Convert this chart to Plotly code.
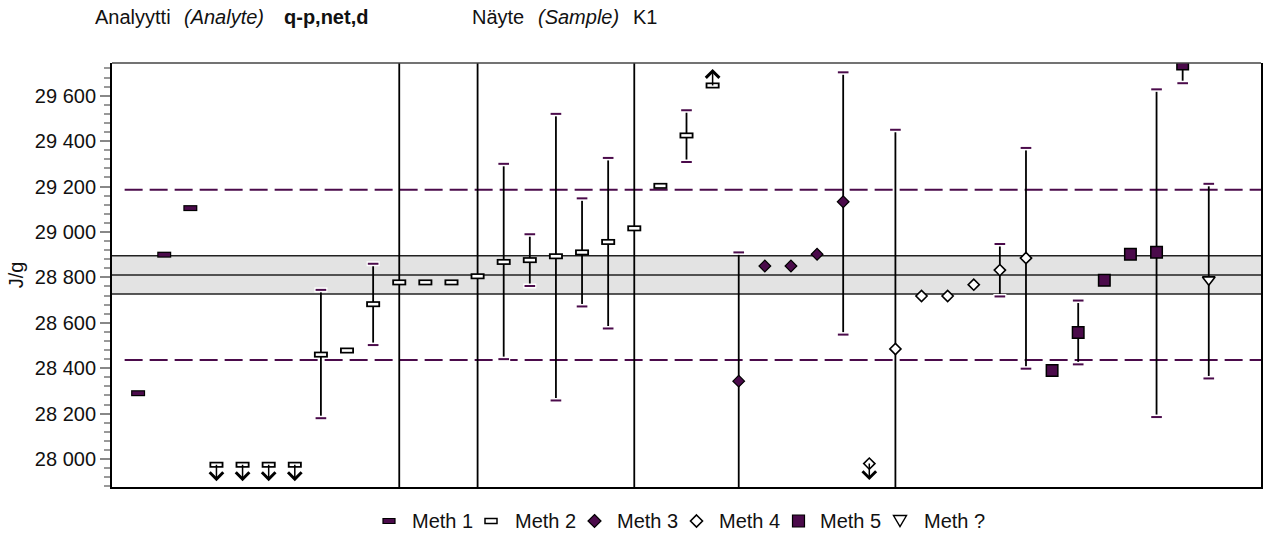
import plotly.graph_objects as go

PURPLE = "#4b0b4b"
FONT = "Liberation Sans, Arial, sans-serif"

# ---- results by method: sample position, reported value, interval limits ----
meth1_x = [1, 2, 3]
meth1_y = [28290, 28900, 29105]
meth1_lo = [None, None, None]
meth1_hi = [None, None, None]

meth2_x = [4, 5, 6, 7, 8, 9, 10, 11, 12, 13, 14, 15, 16, 17, 18, 19, 20, 21, 22, 23]
meth2_y = [27975, 27975, 27975, 27975, 28460, 28478, 28682, 28778, 28778, 28778,
           28805, 28868, 28876, 28893, 28910, 28956, 29016, 29203, 29425, 29645]
meth2_lo = [None, None, None, None, 28180, None, 28502, 27650, None, None,
            27620, 28440, 28762, 28258, 28672, 28575, 27600, None, 29308, None]
meth2_hi = [None, None, None, None, 28745, None, 28860, 29900, None, None,
            29980, 29300, 28990, 29520, 29148, 29326, 30400, None, 29536, None]
meth2_flag = ["<", "<", "<", "<", "", "", "", "", "", "",
              "", "", "", "", "", "", "", "", "", ">"]

meth3_x = [24, 25, 26, 27, 28]
meth3_y = [28343, 28850, 28850, 28902, 29133]
meth3_lo = [27560, None, None, None, 28548]
meth3_hi = [28910, None, None, None, 29703]

meth4_x = [29, 30, 31, 32, 33, 34, 35]
meth4_y = [27980, 28485, 28718, 28718, 28768, 28832, 28885]
meth4_lo = [None, 27500, None, None, None, 28716, 28398]
meth4_hi = [None, 29450, None, None, None, 28947, 29370]
meth4_flag = ["<", "", "", "", "", "", ""]

meth5_x = [36, 37, 38, 39, 40, 41]
meth5_y = [28390, 28557, 28787, 28902, 28911, 29740]
meth5_lo = [None, 28417, None, None, 28185, 29655]
meth5_hi = [None, 28698, None, None, 29628, 29825]

methq_x = [42]
methq_y = [28790]
methq_lo = [28355]
methq_hi = [29212]

# assigned value, its uncertainty, and the acceptance limit
ref_value = 28811
ref_unc = 84
ref_limit = 375

y_tickvals = [28000, 28200, 28400, 28600, 28800, 29000, 29200, 29400, 29600]
y_ticktext = ["28 000", "28 200", "28 400", "28 600", "28 800",
              "29 000", "29 200", "29 400", "29 600"]

legend_names = ["Meth 1", "Meth 2", "Meth 3", "Meth 4", "Meth 5", "Meth ?"]

Y_RANGE = [27877, 29744]
X_RANGE = [0, 44]

# figure geometry in pixels
W, H = 1268, 536
L, R, T, B = 112, 7, 63, 49
PW, PH = W - L - R, H - T - B


def px_x(px):
    return (px - L) / PW


def px_y(py):
    return (H - B - py) / PH


groups = [
    (meth1_x, meth1_y, meth1_lo, meth1_hi),
    (meth2_x, meth2_y, meth2_lo, meth2_hi),
    (meth3_x, meth3_y, meth3_lo, meth3_hi),
    (meth4_x, meth4_y, meth4_lo, meth4_hi),
    (meth5_x, meth5_y, meth5_lo, meth5_hi),
    (methq_x, methq_y, methq_lo, methq_hi),
]

fig = go.Figure()

# interval stems (black), drawn under everything else
for xs, ys, lo, hi in groups:
    plus = [(h - v) if h is not None else 0 for v, h in zip(ys, hi)]
    minus = [(v - l) if l is not None else 0 for v, l in zip(ys, lo)]
    fig.add_trace(go.Scatter(
        x=xs, y=ys, mode="markers", marker=dict(opacity=0, size=2),
        error_y=dict(type="data", symmetric=False, array=plus, arrayminus=minus,
                     color="black", thickness=1.8, width=0),
        showlegend=False, hoverinfo="skip"))

# interval end caps
cap_x, cap_y = [], []
for xs, ys, lo, hi in groups:
    for x, l, h in zip(xs, lo, hi):
        if l is not None:
            cap_x.append(x)
            cap_y.append(l)
        if h is not None:
            cap_x.append(x)
            cap_y.append(h)

fig.add_trace(go.Scatter(
    x=cap_x, y=cap_y, mode="markers",
    marker=dict(symbol="line-ew", size=9.3, line=dict(color="white", width=5)),
    showlegend=False, hoverinfo="skip"))
fig.add_trace(go.Scatter(
    x=cap_x, y=cap_y, mode="markers",
    marker=dict(symbol="line-ew", size=7.6, line=dict(color=PURPLE, width=2)),
    showlegend=False, hoverinfo="skip"))

# Meth 1: filled bar-shaped marker
fig.add_trace(go.Scatter(
    x=meth1_x, y=meth1_y, mode="markers", name="Meth 1",
    marker=dict(symbol="line-ew", size=10, line=dict(color="black", width=6)),
    showlegend=False))
fig.add_trace(go.Scatter(
    x=meth1_x, y=meth1_y, mode="markers",
    marker=dict(symbol="line-ew", size=8.3, line=dict(color=PURPLE, width=3.6)),
    showlegend=False, hoverinfo="skip"))

# Meth 2: open bar-shaped marker
fig.add_trace(go.Scatter(
    x=meth2_x, y=meth2_y, mode="markers", name="Meth 2",
    marker=dict(symbol="line-ew", size=10, line=dict(color="black", width=6)),
    showlegend=False))
fig.add_trace(go.Scatter(
    x=meth2_x, y=meth2_y, mode="markers",
    marker=dict(symbol="line-ew", size=7.4, line=dict(color="white", width=2.6)),
    showlegend=False, hoverinfo="skip"))

# Meth 3: filled diamond
fig.add_trace(go.Scatter(
    x=meth3_x, y=meth3_y, mode="markers", name="Meth 3",
    marker=dict(symbol="diamond", size=9, color=PURPLE,
                line=dict(color="black", width=1.2)),
    showlegend=False))

# Meth 4: open diamond
fig.add_trace(go.Scatter(
    x=meth4_x, y=meth4_y, mode="markers", name="Meth 4",
    marker=dict(symbol="diamond", size=8.6, color="white",
                line=dict(color="black", width=1.6)),
    showlegend=False))

# Meth 5: filled square
fig.add_trace(go.Scatter(
    x=meth5_x, y=meth5_y, mode="markers", name="Meth 5",
    marker=dict(symbol="square", size=11.5, color=PURPLE,
                line=dict(color="black", width=1.5)),
    showlegend=False))

# Meth ?: open down triangle
fig.add_trace(go.Scatter(
    x=methq_x, y=methq_y, mode="markers", name="Meth ?",
    marker=dict(symbol="triangle-down", size=11, color="white",
                line=dict(color="black", width=1.6)),
    showlegend=False))

# arrows for results outside the displayed range
annotations = []
for xs, ys, flags in [(meth2_x, meth2_y, meth2_flag), (meth4_x, meth4_y, meth4_flag)]:
    for x, v, f in zip(xs, ys, flags):
        if not f:
            continue
        annotations.append(dict(
            x=x, y=v, xref="x", yref="y", text="", showarrow=True,
            ax=0, ay=18 if f == "<" else -18,
            arrowside="start", startarrowhead=4, startarrowsize=1.75,
            arrowwidth=1.5, arrowcolor="black", standoff=0, startstandoff=0))

# header line
header = [
    (93, "Analyytti", "normal", "normal"),
    (182, "(Analyte)", "italic", "normal"),
    (282, "q-p,net,d", "normal", "bold"),
    (470, "Näyte", "normal", "normal"),
    (536, "(Sample)", "italic", "normal"),
    (631, "K1", "normal", "normal"),
]
for px, txt, style, weight in header:
    annotations.append(dict(
        x=px_x(px), y=px_y(17), xref="paper", yref="paper", text=txt,
        showarrow=False, xanchor="left", yanchor="middle",
        font=dict(family=FONT, size=20, color="#111", style=style, weight=weight)))

# legend row
legend_sym_px = [389, 491, 594.5, 696.5, 798.5, 900]
legend_txt_px = [410, 513, 615, 717, 818, 922]
legend_y = px_y(521)
for px, name in zip(legend_txt_px, legend_names):
    annotations.append(dict(
        x=px_x(px), y=legend_y, xref="paper", yref="paper", text=name,
        showarrow=False, xanchor="left", yanchor="middle",
        font=dict(family=FONT, size=20, color="#111")))

shapes = [
    # assigned value band
    dict(type="rect", xref="paper", yref="y", x0=0, x1=1,
         y0=ref_value - ref_unc, y1=ref_value + ref_unc,
         fillcolor="#e3e3e3", line=dict(width=0), layer="below"),
    dict(type="line", xref="paper", yref="y", x0=0, x1=1,
         y0=ref_value + ref_unc, y1=ref_value + ref_unc,
         line=dict(color="#222", width=1.5), layer="below"),
    dict(type="line", xref="paper", yref="y", x0=0, x1=1,
         y0=ref_value, y1=ref_value,
         line=dict(color="#222", width=1.5), layer="below"),
    dict(type="line", xref="paper", yref="y", x0=0, x1=1,
         y0=ref_value - ref_unc, y1=ref_value - ref_unc,
         line=dict(color="#222", width=1.5), layer="below"),
    # acceptance limits
    dict(type="line", xref="paper", yref="y", x0=0.011, x1=1,
         y0=ref_value + ref_limit, y1=ref_value + ref_limit,
         line=dict(color=PURPLE, width=2, dash="18px,7px"), layer="below"),
    dict(type="line", xref="paper", yref="y", x0=0.011, x1=1,
         y0=ref_value - ref_limit, y1=ref_value - ref_limit,
         line=dict(color=PURPLE, width=2, dash="18px,7px"), layer="below"),
    # top frame edge
    dict(type="line", xref="paper", yref="paper", x0=0, x1=1, y0=1, y1=1,
         line=dict(color="#444", width=1.5)),
]

# legend symbols
legend_styles = [
    dict(kind="rect", w=6, h=2.5, fill=PURPLE, lw=1.2),
    dict(kind="rect", w=6, h=2.5, fill="white", lw=1.5),
    dict(kind="diamond", w=6.5, h=6.5, fill=PURPLE, lw=1.2),
    dict(kind="diamond", w=6, h=6, fill="white", lw=1.6),
    dict(kind="rect", w=6, h=6, fill=PURPLE, lw=1.2),
    dict(kind="tri", w=6.5, h=5.5, fill="white", lw=1.4),
]
for px, st in zip(legend_sym_px, legend_styles):
    w, h = st["w"], st["h"]
    if st["kind"] == "rect":
        path = f"M{-w},{-h}L{w},{-h}L{w},{h}L{-w},{h}Z"
    elif st["kind"] == "diamond":
        path = f"M0,{h}L{w},0L0,{-h}L{-w},0Z"
    else:
        path = f"M{-w},{h}L{w},{h}L0,{-h}Z"
    shapes.append(dict(
        type="path", xref="paper", yref="paper",
        xsizemode="pixel", ysizemode="pixel",
        xanchor=px_x(px), yanchor=legend_y, path=path,
        fillcolor=st["fill"], line=dict(color="black", width=st["lw"])))

fig.update_layout(
    width=W, height=H,
    margin=dict(l=L, r=R, t=T, b=B, autoexpand=False),
    paper_bgcolor="white", plot_bgcolor="white",
    font=dict(family=FONT, size=20, color="#111"),
    showlegend=False,
    shapes=shapes,
    annotations=annotations,
    xaxis=dict(range=X_RANGE, showticklabels=False, ticks="", showgrid=False,
               zeroline=False, showline=True, linecolor="black", linewidth=2),
    yaxis=dict(range=Y_RANGE, tickmode="array", tickvals=y_tickvals,
               ticktext=y_ticktext, ticks="outside", ticklen=10, tickwidth=1.5,
               tickcolor="#888", showgrid=False, zeroline=False,
               showline=True, linecolor="black", linewidth=2, mirror=True,
               tickfont=dict(family=FONT, size=20, color="#111"),
               minor=dict(tickmode="linear", tick0=28000, dtick=40, ticks="outside",
                          ticklen=6, tickwidth=1.5, tickcolor="#999", showgrid=False),
               title=dict(text="J/g", standoff=6,
                          font=dict(family=FONT, size=20, color="#111"))),
)

fig.write_html("out.html")
